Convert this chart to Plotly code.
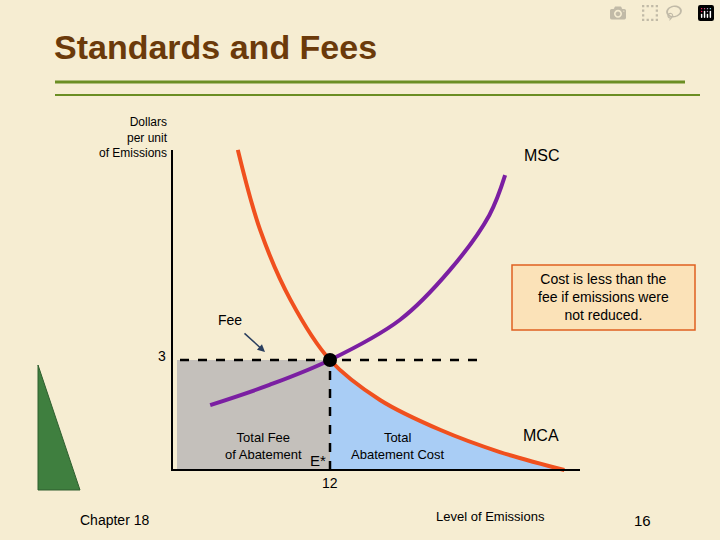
import plotly.graph_objects as go

# data (emissions units, dollars)
mca_x = [5.0, 6.7, 9.0, 12.0, 15.8, 20.4, 24.9, 29.8]
mca_y = [8.73, 6.54, 4.64, 3.0, 1.91, 1.09, 0.49, 0.0]
msc_x = [2.9, 7.4, 12.0, 17.3, 21.1, 24.1, 25.3]
msc_y = [1.77, 2.32, 3.0, 4.09, 5.45, 6.95, 8.04]
fee = 3
e_star = 12

W, H = 720, 540
ox, oy, sx, sy = 172, 470, 158/12, 110/3
def X(px): return (px-ox)/sx
def Y(py): return (oy-py)/sy

fig = go.Figure()
bx = [e_star] + [x for x in mca_x if x > e_star]
by = [fee] + [y for x, y in zip(mca_x, mca_y) if x > e_star]
fig.add_trace(go.Scatter(x=bx + [bx[-1], e_star], y=by + [0, 0], fill="toself",
                         fillcolor="#a9cdf5", line=dict(width=0), mode="lines"))
fig.add_trace(go.Scatter(x=[X(177), e_star, e_star, X(177)], y=[0, 0, fee, fee], fill="toself",
                         fillcolor="#c4c0bb", line=dict(width=0), mode="lines"))
fig.add_trace(go.Scatter(x=[X(180), X(480)], y=[fee, fee], mode="lines",
                         line=dict(color="black", width=2.5, dash="dash")))
fig.add_trace(go.Scatter(x=[e_star, e_star], y=[0, fee], mode="lines",
                         line=dict(color="black", width=2.5, dash="dash")))
fig.add_trace(go.Scatter(x=msc_x, y=msc_y, mode="lines", line=dict(color="#7b1fa2", width=4, shape="spline")))
fig.add_trace(go.Scatter(x=mca_x, y=mca_y, mode="lines", line=dict(color="#f0501e", width=4, shape="spline")))
fig.add_trace(go.Scatter(x=[0, 0, X(580)], y=[Y(150), 0, 0], mode="lines", line=dict(color="black", width=2)))
fig.add_trace(go.Scatter(x=[e_star], y=[fee], mode="markers", marker=dict(color="black", size=14)))

shapes = []
shapes.append(dict(type="line", xref="paper", yref="paper", x0=55/W, x1=685/W, y0=1-82/H, y1=1-82/H,
                   line=dict(color="#6b8e23", width=3)))
shapes.append(dict(type="line", xref="paper", yref="paper", x0=55/W, x1=700/W, y0=1-95/H, y1=1-95/H,
                   line=dict(color="#6b8e23", width=2)))
shapes.append(dict(type="rect", xref="paper", yref="paper", x0=512/W, x1=695/W, y0=1-330/H, y1=1-265/H,
                   fillcolor="#fbe2b8", line=dict(color="#e06020", width=1.5), layer="below"))
shapes.append(dict(type="path", xref="paper", yref="paper",
                   path=f"M {38/W} {1-365/H} L {38/W} {1-490/H} L {80/W} {1-490/H} Z",
                   fillcolor="#3f7f3f", line=dict(color="#2f5f2f", width=1)))
fig.update_layout(shapes=shapes)

ann = []
def T(px, py, text, size=13, color="black", xa="center", **kw):
    ann.append(dict(x=px/W, y=1-py/H, xref="paper", yref="paper", text=text, showarrow=False,
                    font=dict(size=size, color=color, family="Arial"), xanchor=xa, yanchor="middle", **kw))
T(52, 47, "<b>Standards and Fees</b>", 34, "#6b3a0a", "left")
T(170, 137, "Dollars<br>per unit<br>of Emissions", 12, xa="right", align="right")
T(542, 156, "MSC", 16)
T(603, 297, "Cost is less than the<br>fee if emissions were<br>not reduced.", 14)
T(230, 320, "Fee", 14)
T(162, 356, "3", 14)
T(263, 446, "Total Fee<br>of Abatement", 13)
T(318, 460, "E*", 15)
T(398, 446, "Total<br>Abatement Cost", 13)
T(541, 435, "MCA", 16)
T(330, 483, "12", 14)
T(490, 516, "Level of Emissions", 13)
T(115, 520, "Chapter 18", 14)
T(642, 520, "16", 15)
ann.append(dict(x=265/W, y=1-352/H, ax=-22, ay=-20, xref="paper", yref="paper",
                showarrow=True, arrowhead=2, arrowwidth=1.5, text=""))
fig.update_layout(annotations=ann)

fig.update_layout(width=W, height=H, margin=dict(l=0, r=0, t=0, b=0), showlegend=False,
                  paper_bgcolor="#f6edd2", plot_bgcolor="rgba(0,0,0,0)",
                  xaxis=dict(range=[X(0), X(W)], visible=False, fixedrange=True),
                  yaxis=dict(range=[Y(H), Y(0)], visible=False, fixedrange=True))
fig.write_html("out.html", post_script="document.body.style.margin='0';")
